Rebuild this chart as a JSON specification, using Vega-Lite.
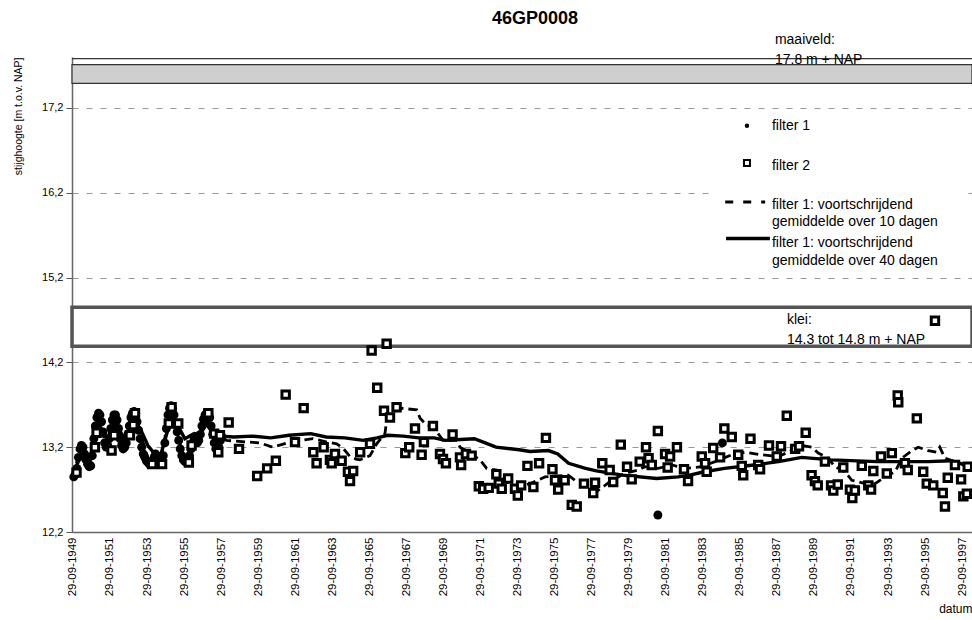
{
  "$schema": "https://vega.github.io/schema/vega-lite/v6.json",
  "width": 900,
  "height": 475,
  "autosize": {"type": "none"},
  "padding": {"left": 72, "top": 57, "right": 0, "bottom": 88},
  "background": "white",
  "title": {"text": "46GP0008", "fontSize": 18, "fontWeight": "bold", "anchor": "middle", "frame": "group", "dx": 13, "offset": 5, "color": "black"},
  "config": {
    "view": {"stroke": null},
    "font": "Liberation Sans",
    "axisX": {"labelOverlap": false, "tickCount": 40},
    "axisY": {"labelFontSize": 11, "labelColor": "black", "tickSize": 6, "tickColor": "#555", "labelPadding": 3, "domainColor": "#666", "domainWidth": 1.5, "grid": true, "gridDash": [6, 8], "gridColor": "#999", "gridWidth": 1}
  },
  "datasets": {
    "maaiveld": [{"waarde": 17.49, "boven": 17.71}],
    "maaiveldlijn": [{"waarde": 17.78}],
    "klei": [{"waarde": 14.39, "boven": 14.85}],
    "legendakader": [{"datum": "1984-04-15", "datum2": "1997-09-27", "waarde": 15.32, "boven": 17.175}],
    "filter2": [
      {"datum": "1949-12-08", "waarde": 12.90}, {"datum": "1950-12-06", "waarde": 13.20}, {"datum": "1951-01-08", "waarde": 13.37},
      {"datum": "1951-10-30", "waarde": 13.16}, {"datum": "1951-12-20", "waarde": 13.34}, {"datum": "1952-10-26", "waarde": 13.34},
      {"datum": "1953-01-01", "waarde": 13.46}, {"datum": "1953-02-03", "waarde": 13.60}, {"datum": "1954-01-08", "waarde": 13.00},
      {"datum": "1954-07-22", "waarde": 13.00}, {"datum": "1954-12-02", "waarde": 13.48}, {"datum": "1955-01-26", "waarde": 13.67},
      {"datum": "1955-06-06", "waarde": 13.48}, {"datum": "1956-01-01", "waarde": 13.02}, {"datum": "1956-02-24", "waarde": 13.22},
      {"datum": "1957-01-19", "waarde": 13.60}, {"datum": "1957-05-14", "waarde": 13.36}, {"datum": "1957-08-03", "waarde": 13.14},
      {"datum": "1957-09-05", "waarde": 13.34}, {"datum": "1958-02-24", "waarde": 13.49}, {"datum": "1958-09-16", "waarde": 13.18},
      {"datum": "1959-09-09", "waarde": 12.86}, {"datum": "1960-03-24", "waarde": 12.95}, {"datum": "1960-09-12", "waarde": 13.04},
      {"datum": "1961-03-24", "waarde": 13.82}, {"datum": "1961-09-24", "waarde": 13.26}, {"datum": "1962-03-14", "waarde": 13.66},
      {"datum": "1962-09-20", "waarde": 13.14}, {"datum": "1962-11-24", "waarde": 13.01}, {"datum": "1963-04-12", "waarde": 13.20},
      {"datum": "1963-08-14", "waarde": 13.05}, {"datum": "1963-09-17", "waarde": 13.01}, {"datum": "1963-11-21", "waarde": 13.12},
      {"datum": "1964-04-01", "waarde": 13.04}, {"datum": "1964-08-03", "waarde": 12.91}, {"datum": "1964-09-13", "waarde": 12.80},
      {"datum": "1964-11-14", "waarde": 12.92}, {"datum": "1965-04-01", "waarde": 13.14}, {"datum": "1965-10-12", "waarde": 13.24},
      {"datum": "1965-11-13", "waarde": 14.34}, {"datum": "1966-03-03", "waarde": 13.90}, {"datum": "1966-07-15", "waarde": 13.63},
      {"datum": "1966-09-05", "waarde": 14.42}, {"datum": "1966-11-10", "waarde": 13.55}, {"datum": "1967-03-20", "waarde": 13.67},
      {"datum": "1967-09-08", "waarde": 13.13}, {"datum": "1967-11-24", "waarde": 13.20}, {"datum": "1968-03-17", "waarde": 13.42},
      {"datum": "1968-07-26", "waarde": 13.11}, {"datum": "1968-09-09", "waarde": 13.26}, {"datum": "1969-03-06", "waarde": 13.45},
      {"datum": "1969-07-23", "waarde": 13.12}, {"datum": "1969-09-20", "waarde": 13.06}, {"datum": "1969-11-17", "waarde": 13.01},
      {"datum": "1970-03-28", "waarde": 13.35}, {"datum": "1970-08-21", "waarde": 13.08}, {"datum": "1970-09-13", "waarde": 12.99},
      {"datum": "1970-12-16", "waarde": 13.12}, {"datum": "1971-04-08", "waarde": 13.10}, {"datum": "1971-08-28", "waarde": 12.74},
      {"datum": "1971-11-21", "waarde": 12.71}, {"datum": "1972-03-09", "waarde": 12.72}, {"datum": "1972-08-07", "waarde": 12.88},
      {"datum": "1972-09-24", "waarde": 12.77}, {"datum": "1972-11-21", "waarde": 12.71}, {"datum": "1973-03-28", "waarde": 12.83},
      {"datum": "1973-08-10", "waarde": 12.71}, {"datum": "1973-10-04", "waarde": 12.63}, {"datum": "1973-12-09", "waarde": 12.75},
      {"datum": "1974-04-12", "waarde": 12.98}, {"datum": "1974-08-07", "waarde": 12.73}, {"datum": "1974-11-28", "waarde": 13.01},
      {"datum": "1975-04-12", "waarde": 13.31}, {"datum": "1975-08-18", "waarde": 12.94}, {"datum": "1975-10-08", "waarde": 12.81},
      {"datum": "1975-12-09", "waarde": 12.70}, {"datum": "1976-04-15", "waarde": 12.81}, {"datum": "1976-09-02", "waarde": 12.52},
      {"datum": "1976-12-09", "waarde": 12.50}, {"datum": "1977-04-30", "waarde": 12.77}, {"datum": "1977-10-30", "waarde": 12.66},
      {"datum": "1977-12-05", "waarde": 12.78}, {"datum": "1978-04-27", "waarde": 13.01}, {"datum": "1978-09-20", "waarde": 12.93},
      {"datum": "1978-11-28", "waarde": 12.79}, {"datum": "1979-04-27", "waarde": 13.23}, {"datum": "1979-08-28", "waarde": 12.97},
      {"datum": "1979-11-28", "waarde": 12.82}, {"datum": "1980-05-04", "waarde": 13.03}, {"datum": "1980-09-05", "waarde": 13.20},
      {"datum": "1980-10-26", "waarde": 13.07}, {"datum": "1980-12-28", "waarde": 12.99}, {"datum": "1981-04-27", "waarde": 13.39},
      {"datum": "1981-09-16", "waarde": 13.12}, {"datum": "1981-11-06", "waarde": 12.96}, {"datum": "1981-12-24", "waarde": 13.09},
      {"datum": "1982-05-08", "waarde": 13.20}, {"datum": "1982-09-24", "waarde": 12.94}, {"datum": "1982-12-13", "waarde": 12.80},
      {"datum": "1983-09-09", "waarde": 13.09}, {"datum": "1983-11-14", "waarde": 13.01}, {"datum": "1983-12-16", "waarde": 12.91},
      {"datum": "1984-04-22", "waarde": 13.19}, {"datum": "1984-09-05", "waarde": 13.08}, {"datum": "1984-11-28", "waarde": 13.42},
      {"datum": "1985-04-23", "waarde": 13.32}, {"datum": "1985-08-28", "waarde": 13.11}, {"datum": "1985-11-06", "waarde": 12.98},
      {"datum": "1985-12-05", "waarde": 12.87}, {"datum": "1986-04-27", "waarde": 13.30}, {"datum": "1986-09-27", "waarde": 12.99},
      {"datum": "1986-11-02", "waarde": 12.94}, {"datum": "1987-04-27", "waarde": 13.22}, {"datum": "1987-09-27", "waarde": 13.09},
      {"datum": "1987-12-20", "waarde": 13.21}, {"datum": "1988-04-12", "waarde": 13.57}, {"datum": "1988-09-24", "waarde": 13.18},
      {"datum": "1988-12-09", "waarde": 13.21}, {"datum": "1989-04-20", "waarde": 13.37}, {"datum": "1989-08-14", "waarde": 12.87},
      {"datum": "1989-10-19", "waarde": 12.80}, {"datum": "1989-12-13", "waarde": 12.75}, {"datum": "1990-05-04", "waarde": 13.03},
      {"datum": "1990-09-02", "waarde": 12.75}, {"datum": "1990-10-16", "waarde": 12.69}, {"datum": "1991-01-12", "waarde": 12.76},
      {"datum": "1991-05-01", "waarde": 12.96}, {"datum": "1991-09-09", "waarde": 12.70}, {"datum": "1991-10-26", "waarde": 12.60},
      {"datum": "1991-12-16", "waarde": 12.69}, {"datum": "1992-04-30", "waarde": 12.98}, {"datum": "1992-09-05", "waarde": 12.75},
      {"datum": "1992-10-30", "waarde": 12.70}, {"datum": "1992-12-13", "waarde": 12.92}, {"datum": "1993-05-14", "waarde": 13.09},
      {"datum": "1993-09-05", "waarde": 12.89}, {"datum": "1993-12-13", "waarde": 13.13}, {"datum": "1994-04-08", "waarde": 13.81},
      {"datum": "1994-04-19", "waarde": 13.73}, {"datum": "1994-08-28", "waarde": 13.01}, {"datum": "1994-10-23", "waarde": 12.93},
      {"datum": "1995-04-20", "waarde": 13.54}, {"datum": "1995-08-24", "waarde": 12.91}, {"datum": "1995-11-02", "waarde": 12.77},
      {"datum": "1996-03-09", "waarde": 12.75}, {"datum": "1996-04-12", "waarde": 14.69}, {"datum": "1996-09-12", "waarde": 12.66},
      {"datum": "1996-10-26", "waarde": 12.50}, {"datum": "1996-12-20", "waarde": 12.84}, {"datum": "1997-05-11", "waarde": 12.99},
      {"datum": "1997-09-09", "waarde": 12.82}, {"datum": "1997-10-23", "waarde": 12.62}, {"datum": "1997-12-31", "waarde": 12.65},
      {"datum": "1998-01-18", "waarde": 12.97}
    ],
    "filter1": [
      {"datum": "1949-10-15", "waarde": 12.85}, {"datum": "1949-11-15", "waarde": 12.88}, {"datum": "1949-12-15", "waarde": 12.95},
      {"datum": "1950-01-15", "waarde": 13.08}, {"datum": "1950-02-15", "waarde": 13.18}, {"datum": "1950-03-15", "waarde": 13.22},
      {"datum": "1950-04-15", "waarde": 13.20}, {"datum": "1950-05-15", "waarde": 13.12}, {"datum": "1950-06-15", "waarde": 13.05},
      {"datum": "1950-07-15", "waarde": 13.00}, {"datum": "1950-08-15", "waarde": 12.97}, {"datum": "1950-09-15", "waarde": 12.98},
      {"datum": "1950-10-15", "waarde": 13.10}, {"datum": "1950-11-15", "waarde": 13.30}, {"datum": "1950-12-15", "waarde": 13.45},
      {"datum": "1951-01-15", "waarde": 13.55}, {"datum": "1951-02-15", "waarde": 13.60}, {"datum": "1951-03-15", "waarde": 13.58},
      {"datum": "1951-04-15", "waarde": 13.50}, {"datum": "1951-05-15", "waarde": 13.38}, {"datum": "1951-06-15", "waarde": 13.25},
      {"datum": "1951-07-15", "waarde": 13.20}, {"datum": "1951-08-15", "waarde": 13.22}, {"datum": "1951-09-15", "waarde": 13.30},
      {"datum": "1951-10-15", "waarde": 13.42}, {"datum": "1951-11-15", "waarde": 13.52}, {"datum": "1951-12-15", "waarde": 13.58},
      {"datum": "1952-01-15", "waarde": 13.58}, {"datum": "1952-02-15", "waarde": 13.52}, {"datum": "1952-03-15", "waarde": 13.42},
      {"datum": "1952-04-15", "waarde": 13.30}, {"datum": "1952-05-15", "waarde": 13.22}, {"datum": "1952-06-15", "waarde": 13.18},
      {"datum": "1952-07-15", "waarde": 13.20}, {"datum": "1952-08-15", "waarde": 13.25}, {"datum": "1952-09-15", "waarde": 13.35},
      {"datum": "1952-10-15", "waarde": 13.45}, {"datum": "1952-11-15", "waarde": 13.55}, {"datum": "1952-12-15", "waarde": 13.60},
      {"datum": "1953-01-15", "waarde": 13.62}, {"datum": "1953-02-15", "waarde": 13.60}, {"datum": "1953-03-15", "waarde": 13.50},
      {"datum": "1953-04-15", "waarde": 13.40}, {"datum": "1953-05-15", "waarde": 13.30}, {"datum": "1953-06-15", "waarde": 13.20},
      {"datum": "1953-07-15", "waarde": 13.12}, {"datum": "1953-08-15", "waarde": 13.08}, {"datum": "1953-09-15", "waarde": 13.04},
      {"datum": "1953-10-15", "waarde": 13.02}, {"datum": "1953-11-15", "waarde": 13.00}, {"datum": "1953-12-15", "waarde": 13.00},
      {"datum": "1954-01-15", "waarde": 13.02}, {"datum": "1954-02-15", "waarde": 13.08}, {"datum": "1954-03-15", "waarde": 13.12},
      {"datum": "1954-04-15", "waarde": 13.08}, {"datum": "1954-05-15", "waarde": 13.02}, {"datum": "1954-06-15", "waarde": 13.00},
      {"datum": "1954-07-15", "waarde": 13.02}, {"datum": "1954-08-15", "waarde": 13.10}, {"datum": "1954-09-15", "waarde": 13.25},
      {"datum": "1954-10-15", "waarde": 13.42}, {"datum": "1954-11-15", "waarde": 13.58}, {"datum": "1954-12-15", "waarde": 13.66},
      {"datum": "1955-01-15", "waarde": 13.69}, {"datum": "1955-02-15", "waarde": 13.66}, {"datum": "1955-03-15", "waarde": 13.58},
      {"datum": "1955-04-15", "waarde": 13.48}, {"datum": "1955-05-15", "waarde": 13.38}, {"datum": "1955-06-15", "waarde": 13.28},
      {"datum": "1955-07-15", "waarde": 13.18}, {"datum": "1955-08-15", "waarde": 13.10}, {"datum": "1955-09-15", "waarde": 13.05},
      {"datum": "1955-10-15", "waarde": 13.03}, {"datum": "1955-11-15", "waarde": 13.04}, {"datum": "1955-12-15", "waarde": 13.05},
      {"datum": "1956-01-15", "waarde": 13.10}, {"datum": "1956-02-15", "waarde": 13.18}, {"datum": "1956-03-15", "waarde": 13.25},
      {"datum": "1956-04-15", "waarde": 13.30}, {"datum": "1956-05-15", "waarde": 13.28}, {"datum": "1956-06-15", "waarde": 13.25},
      {"datum": "1956-07-15", "waarde": 13.28}, {"datum": "1956-08-15", "waarde": 13.35}, {"datum": "1956-09-15", "waarde": 13.45},
      {"datum": "1956-10-15", "waarde": 13.53}, {"datum": "1956-11-15", "waarde": 13.58}, {"datum": "1956-12-15", "waarde": 13.60},
      {"datum": "1957-01-15", "waarde": 13.60}, {"datum": "1957-02-15", "waarde": 13.55}, {"datum": "1957-03-15", "waarde": 13.45},
      {"datum": "1957-04-15", "waarde": 13.35}, {"datum": "1957-05-15", "waarde": 13.25}, {"datum": "1957-06-15", "waarde": 13.18},
      {"datum": "1957-07-15", "waarde": 13.16}, {"datum": "1957-08-15", "waarde": 13.20}, {"datum": "1957-09-15", "waarde": 13.28},
      {"datum": "1957-10-15", "waarde": 13.32},
      {"datum": "1981-04-27", "waarde": 12.40}, {"datum": "1984-10-20", "waarde": 13.25}
    ],
    "ma10": [
      {"datum": "1949-10-01", "waarde": 12.85}, {"datum": "1950-03-01", "waarde": 13.22}, {"datum": "1950-08-15", "waarde": 12.97},
      {"datum": "1951-02-01", "waarde": 13.60}, {"datum": "1951-07-15", "waarde": 13.20}, {"datum": "1951-12-20", "waarde": 13.58},
      {"datum": "1952-06-15", "waarde": 13.18}, {"datum": "1953-01-10", "waarde": 13.62}, {"datum": "1953-11-20", "waarde": 13.00},
      {"datum": "1954-03-01", "waarde": 13.12}, {"datum": "1954-06-10", "waarde": 13.00}, {"datum": "1955-01-10", "waarde": 13.69},
      {"datum": "1955-10-15", "waarde": 13.03}, {"datum": "1956-04-01", "waarde": 13.30}, {"datum": "1956-06-10", "waarde": 13.25},
      {"datum": "1957-01-01", "waarde": 13.60}, {"datum": "1957-07-10", "waarde": 13.16}, {"datum": "1957-10-01", "waarde": 13.30},
      {"datum": "1958-01-15", "waarde": 13.28}, {"datum": "1959-11-01", "waarde": 13.25}, {"datum": "1960-07-15", "waarde": 13.20},
      {"datum": "1961-06-15", "waarde": 13.26}, {"datum": "1962-09-12", "waarde": 13.30}, {"datum": "1963-06-15", "waarde": 13.26},
      {"datum": "1963-12-25", "waarde": 13.24}, {"datum": "1964-04-25", "waarde": 13.19}, {"datum": "1964-09-12", "waarde": 13.09},
      {"datum": "1965-01-08", "waarde": 13.06}, {"datum": "1965-03-27", "waarde": 13.05}, {"datum": "1965-10-12", "waarde": 13.10},
      {"datum": "1966-02-20", "waarde": 13.24}, {"datum": "1966-08-03", "waarde": 13.36}, {"datum": "1966-09-05", "waarde": 13.52},
      {"datum": "1966-11-10", "waarde": 13.58}, {"datum": "1967-05-26", "waarde": 13.66}, {"datum": "1968-04-20", "waarde": 13.64},
      {"datum": "1968-06-25", "waarde": 13.54}, {"datum": "1968-11-02", "waarde": 13.46}, {"datum": "1969-03-14", "waarde": 13.44},
      {"datum": "1969-09-20", "waarde": 13.28}, {"datum": "1970-06-25", "waarde": 13.28}, {"datum": "1970-08-21", "waarde": 13.20},
      {"datum": "1970-12-28", "waarde": 13.16}, {"datum": "1971-09-20", "waarde": 13.05}, {"datum": "1972-01-30", "waarde": 12.95},
      {"datum": "1972-08-14", "waarde": 12.93}, {"datum": "1972-12-20", "waarde": 12.81}, {"datum": "1973-07-05", "waarde": 12.75},
      {"datum": "1974-02-24", "waarde": 12.75}, {"datum": "1974-06-01", "waarde": 12.77}, {"datum": "1975-03-25", "waarde": 12.85},
      {"datum": "1976-06-25", "waarde": 12.87}, {"datum": "1976-11-06", "waarde": 12.81}, {"datum": "1977-10-01", "waarde": 12.75},
      {"datum": "1978-02-03", "waarde": 12.69}, {"datum": "1978-06-20", "waarde": 12.75}, {"datum": "1978-10-30", "waarde": 12.81},
      {"datum": "1979-07-20", "waarde": 12.89}, {"datum": "1980-04-05", "waarde": 12.93}, {"datum": "1980-08-14", "waarde": 12.97},
      {"datum": "1981-05-01", "waarde": 12.95}, {"datum": "1982-01-25", "waarde": 12.99}, {"datum": "1982-10-16", "waarde": 12.95},
      {"datum": "1983-09-09", "waarde": 12.97}, {"datum": "1984-05-30", "waarde": 13.03}, {"datum": "1985-04-23", "waarde": 13.11},
      {"datum": "1986-01-12", "waarde": 13.14}, {"datum": "1986-12-06", "waarde": 13.11}, {"datum": "1987-10-30", "waarde": 13.09},
      {"datum": "1988-07-18", "waarde": 13.16}, {"datum": "1989-02-03", "waarde": 13.22}, {"datum": "1989-08-14", "waarde": 13.20},
      {"datum": "1989-12-24", "waarde": 13.13}, {"datum": "1990-07-08", "waarde": 13.07}, {"datum": "1990-11-17", "waarde": 12.97},
      {"datum": "1991-06-03", "waarde": 12.91}, {"datum": "1991-10-16", "waarde": 12.81}, {"datum": "1992-07-05", "waarde": 12.77},
      {"datum": "1993-01-19", "waarde": 12.77}, {"datum": "1993-08-03", "waarde": 12.85}, {"datum": "1994-02-17", "waarde": 12.91},
      {"datum": "1994-06-28", "waarde": 13.07}, {"datum": "1995-01-12", "waarde": 13.16}, {"datum": "1995-05-18", "waarde": 13.20},
      {"datum": "1995-12-01", "waarde": 13.16}, {"datum": "1996-05-14", "waarde": 13.14}, {"datum": "1996-07-15", "waarde": 13.20},
      {"datum": "1996-10-26", "waarde": 13.07}, {"datum": "1997-05-11", "waarde": 13.03}, {"datum": "1998-04-12", "waarde": 12.97}
    ],
    "ma40": [
      {"datum": "1949-10-01", "waarde": 12.88}, {"datum": "1950-03-15", "waarde": 13.12}, {"datum": "1950-09-01", "waarde": 13.05},
      {"datum": "1951-02-15", "waarde": 13.48}, {"datum": "1951-08-01", "waarde": 13.30}, {"datum": "1952-01-15", "waarde": 13.50},
      {"datum": "1952-07-01", "waarde": 13.30}, {"datum": "1953-01-20", "waarde": 13.52}, {"datum": "1953-06-01", "waarde": 13.40},
      {"datum": "1953-10-15", "waarde": 13.22}, {"datum": "1954-03-01", "waarde": 13.12}, {"datum": "1954-07-01", "waarde": 13.12},
      {"datum": "1955-01-20", "waarde": 13.55}, {"datum": "1955-06-01", "waarde": 13.45}, {"datum": "1955-10-15", "waarde": 13.30},
      {"datum": "1956-04-15", "waarde": 13.36}, {"datum": "1956-08-01", "waarde": 13.35}, {"datum": "1957-01-20", "waarde": 13.50},
      {"datum": "1957-06-01", "waarde": 13.35}, {"datum": "1957-10-01", "waarde": 13.33}, {"datum": "1958-06-01", "waarde": 13.32},
      {"datum": "1959-06-01", "waarde": 13.33}, {"datum": "1960-06-01", "waarde": 13.31}, {"datum": "1961-06-01", "waarde": 13.34},
      {"datum": "1962-08-01", "waarde": 13.36}, {"datum": "1963-06-01", "waarde": 13.32}, {"datum": "1964-06-01", "waarde": 13.31},
      {"datum": "1965-06-01", "waarde": 13.28}, {"datum": "1966-03-01", "waarde": 13.31}, {"datum": "1966-10-01", "waarde": 13.34},
      {"datum": "1967-08-01", "waarde": 13.33}, {"datum": "1968-06-01", "waarde": 13.31}, {"datum": "1969-04-01", "waarde": 13.31},
      {"datum": "1969-11-01", "waarde": 13.28}, {"datum": "1970-09-01", "waarde": 13.29}, {"datum": "1971-06-01", "waarde": 13.30},
      {"datum": "1972-01-01", "waarde": 13.25}, {"datum": "1972-08-01", "waarde": 13.20}, {"datum": "1973-11-01", "waarde": 13.17},
      {"datum": "1974-06-01", "waarde": 13.15}, {"datum": "1975-06-01", "waarde": 13.16}, {"datum": "1975-12-01", "waarde": 13.12},
      {"datum": "1976-07-01", "waarde": 13.01}, {"datum": "1977-06-01", "waarde": 12.95}, {"datum": "1978-01-01", "waarde": 12.92},
      {"datum": "1979-06-01", "waarde": 12.87}, {"datum": "1981-04-01", "waarde": 12.83}, {"datum": "1982-06-01", "waarde": 12.85},
      {"datum": "1983-01-15", "waarde": 12.87}, {"datum": "1983-11-01", "waarde": 12.91}, {"datum": "1984-12-01", "waarde": 12.95},
      {"datum": "1986-07-01", "waarde": 12.99}, {"datum": "1987-11-01", "waarde": 13.03}, {"datum": "1989-02-01", "waarde": 13.08},
      {"datum": "1990-09-01", "waarde": 13.05}, {"datum": "1993-03-01", "waarde": 13.03}, {"datum": "1995-12-01", "waarde": 13.03},
      {"datum": "1997-03-01", "waarde": 13.04}, {"datum": "1997-10-01", "waarde": 13.00}, {"datum": "1998-04-12", "waarde": 12.95}
    ],
    "leg_filter1": [{"datum": "1986-02-17", "waarde": 16.99}],
    "leg_filter2": [{"datum": "1986-02-17", "waarde": 16.55}],
    "leg_ma10": [{"datum": "1984-12-15", "waarde": 16.09}, {"datum": "1987-02-10", "waarde": 16.09}],
    "leg_ma40": [{"datum": "1985-01-01", "waarde": 15.66}, {"datum": "1987-05-15", "waarde": 15.66}],
    "teksten": [
      {"datum": "1987-08-22", "waarde": 18.0, "tekst": "maaiveld:"},
      {"datum": "1987-08-22", "waarde": 17.76, "tekst": "17.8 m + NAP"},
      {"datum": "1988-04-15", "waarde": 14.70, "tekst": "klei:"},
      {"datum": "1988-04-15", "waarde": 14.46, "tekst": "14.3 tot 14.8 m + NAP"},
      {"datum": "1987-06-24", "waarde": 16.99, "tekst": "filter 1"},
      {"datum": "1987-06-24", "waarde": 16.52, "tekst": "filter 2"},
      {"datum": "1987-06-24", "waarde": 16.06, "tekst": "filter 1: voortschrijdend"},
      {"datum": "1987-06-24", "waarde": 15.86, "tekst": "gemiddelde over 10 dagen"},
      {"datum": "1987-06-24", "waarde": 15.61, "tekst": "filter 1: voortschrijdend"},
      {"datum": "1987-06-24", "waarde": 15.40, "tekst": "gemiddelde over 40 dagen"}
    ]
  },
  "layer": [
    {
      "data": {"name": "maaiveld"},
      "mark": {"type": "rect", "fill": "#cfcfcf", "stroke": "#333", "strokeWidth": 1.2},
      "encoding": {
        "y": {"field": "waarde", "type": "quantitative",
          "scale": {"domain": [12.2, 17.8], "nice": false, "zero": false},
          "axis": {"title": "stijghoogte [m t.o.v. NAP]", "titleAnchor": "end", "titleFontSize": 10.5, "titleFontWeight": "normal", "titleColor": "black", "titlePadding": 18,
            "values": [12.2, 13.2, 14.2, 15.2, 16.2, 17.2], "labelExpr": "replace(format(datum.value, '.1f'), '.', ',')"}},
        "y2": {"field": "boven"}
      }
    },
    {
      "data": {"name": "maaiveldlijn"},
      "mark": {"type": "rule", "color": "#333", "strokeWidth": 1.2},
      "encoding": {"y": {"field": "waarde", "type": "quantitative"}}
    },
    {
      "data": {"name": "klei"},
      "mark": {"type": "rect", "fill": null, "fillOpacity": 0, "stroke": "#555", "strokeWidth": 3.5},
      "encoding": {"y": {"field": "waarde", "type": "quantitative"}, "y2": {"field": "boven"}}
    },
    {
      "data": {"name": "legendakader"},
      "mark": {"type": "rect", "fill": "white", "stroke": null},
      "encoding": {
        "x": {"field": "datum", "type": "temporal",
          "scale": {"domain": [{"year": 1949, "month": 9, "date": 10}, {"year": 1998, "month": 4, "date": 12}]},
          "axis": {"title": "datum", "titleAnchor": "end", "titleFontSize": 12, "titleFontWeight": "normal", "titleColor": "black", "titlePadding": 8,
            "tickCount": 40,
            "values": [
              {"year": 1949, "month": 9, "date": 29}, {"year": 1951, "month": 9, "date": 29}, {"year": 1953, "month": 9, "date": 29},
              {"year": 1955, "month": 9, "date": 29}, {"year": 1957, "month": 9, "date": 29}, {"year": 1959, "month": 9, "date": 29},
              {"year": 1961, "month": 9, "date": 29}, {"year": 1963, "month": 9, "date": 29}, {"year": 1965, "month": 9, "date": 29},
              {"year": 1967, "month": 9, "date": 29}, {"year": 1969, "month": 9, "date": 29}, {"year": 1971, "month": 9, "date": 29},
              {"year": 1973, "month": 9, "date": 29}, {"year": 1975, "month": 9, "date": 29}, {"year": 1977, "month": 9, "date": 29},
              {"year": 1979, "month": 9, "date": 29}, {"year": 1981, "month": 9, "date": 29}, {"year": 1983, "month": 9, "date": 29},
              {"year": 1985, "month": 9, "date": 29}, {"year": 1987, "month": 9, "date": 29}, {"year": 1989, "month": 9, "date": 29},
              {"year": 1991, "month": 9, "date": 29}, {"year": 1993, "month": 9, "date": 29}, {"year": 1995, "month": 9, "date": 29},
              {"year": 1997, "month": 9, "date": 29}],
            "format": "%d-%m-%Y", "labelOverlap": false, "labelAngle": -90, "labelAlign": "right", "labelBaseline": "middle",
            "labelFlush": false, "labelBound": false, "ticks": false, "labelPadding": 5, "labelFontSize": 11.5, "labelColor": "black",
            "grid": false, "domainColor": "#666", "domainWidth": 1.5}},
        "x2": {"field": "datum2"},
        "y": {"field": "waarde", "type": "quantitative"},
        "y2": {"field": "boven"}
      }
    },
    {
      "data": {"name": "ma40"},
      "mark": {"type": "line", "color": "black", "strokeWidth": 3.4},
      "encoding": {"x": {"field": "datum", "type": "temporal"}, "y": {"field": "waarde", "type": "quantitative"}}
    },
    {
      "data": {"name": "ma10"},
      "mark": {"type": "line", "color": "black", "strokeWidth": 2.8, "strokeDash": [9, 5]},
      "encoding": {"x": {"field": "datum", "type": "temporal"}, "y": {"field": "waarde", "type": "quantitative"}}
    },
    {
      "data": {"name": "filter1"},
      "mark": {"type": "point", "shape": "circle", "filled": true, "color": "black", "size": 80, "opacity": 1},
      "encoding": {"x": {"field": "datum", "type": "temporal"}, "y": {"field": "waarde", "type": "quantitative"}}
    },
    {
      "data": {"name": "filter2"},
      "mark": {"type": "point", "shape": "square", "size": 55, "filled": true, "fill": "white", "stroke": "black", "strokeWidth": 3, "opacity": 1},
      "encoding": {"x": {"field": "datum", "type": "temporal"}, "y": {"field": "waarde", "type": "quantitative"}}
    },
    {
      "data": {"name": "leg_filter1"},
      "mark": {"type": "point", "shape": "circle", "filled": true, "color": "black", "size": 20, "opacity": 1},
      "encoding": {"x": {"field": "datum", "type": "temporal"}, "y": {"field": "waarde", "type": "quantitative"}}
    },
    {
      "data": {"name": "leg_filter2"},
      "mark": {"type": "point", "shape": "square", "size": 36, "filled": true, "fill": "white", "stroke": "black", "strokeWidth": 2, "opacity": 1},
      "encoding": {"x": {"field": "datum", "type": "temporal"}, "y": {"field": "waarde", "type": "quantitative"}}
    },
    {
      "data": {"name": "leg_ma10"},
      "mark": {"type": "line", "color": "black", "strokeWidth": 3, "strokeDash": [8, 10]},
      "encoding": {"x": {"field": "datum", "type": "temporal"}, "y": {"field": "waarde", "type": "quantitative"}}
    },
    {
      "data": {"name": "leg_ma40"},
      "mark": {"type": "line", "color": "black", "strokeWidth": 3.5},
      "encoding": {"x": {"field": "datum", "type": "temporal"}, "y": {"field": "waarde", "type": "quantitative"}}
    },
    {
      "data": {"name": "teksten"},
      "mark": {"type": "text", "align": "left", "baseline": "middle", "fontSize": 14, "color": "black"},
      "encoding": {"x": {"field": "datum", "type": "temporal"}, "y": {"field": "waarde", "type": "quantitative"}, "text": {"field": "tekst"}}
    }
  ]
}
